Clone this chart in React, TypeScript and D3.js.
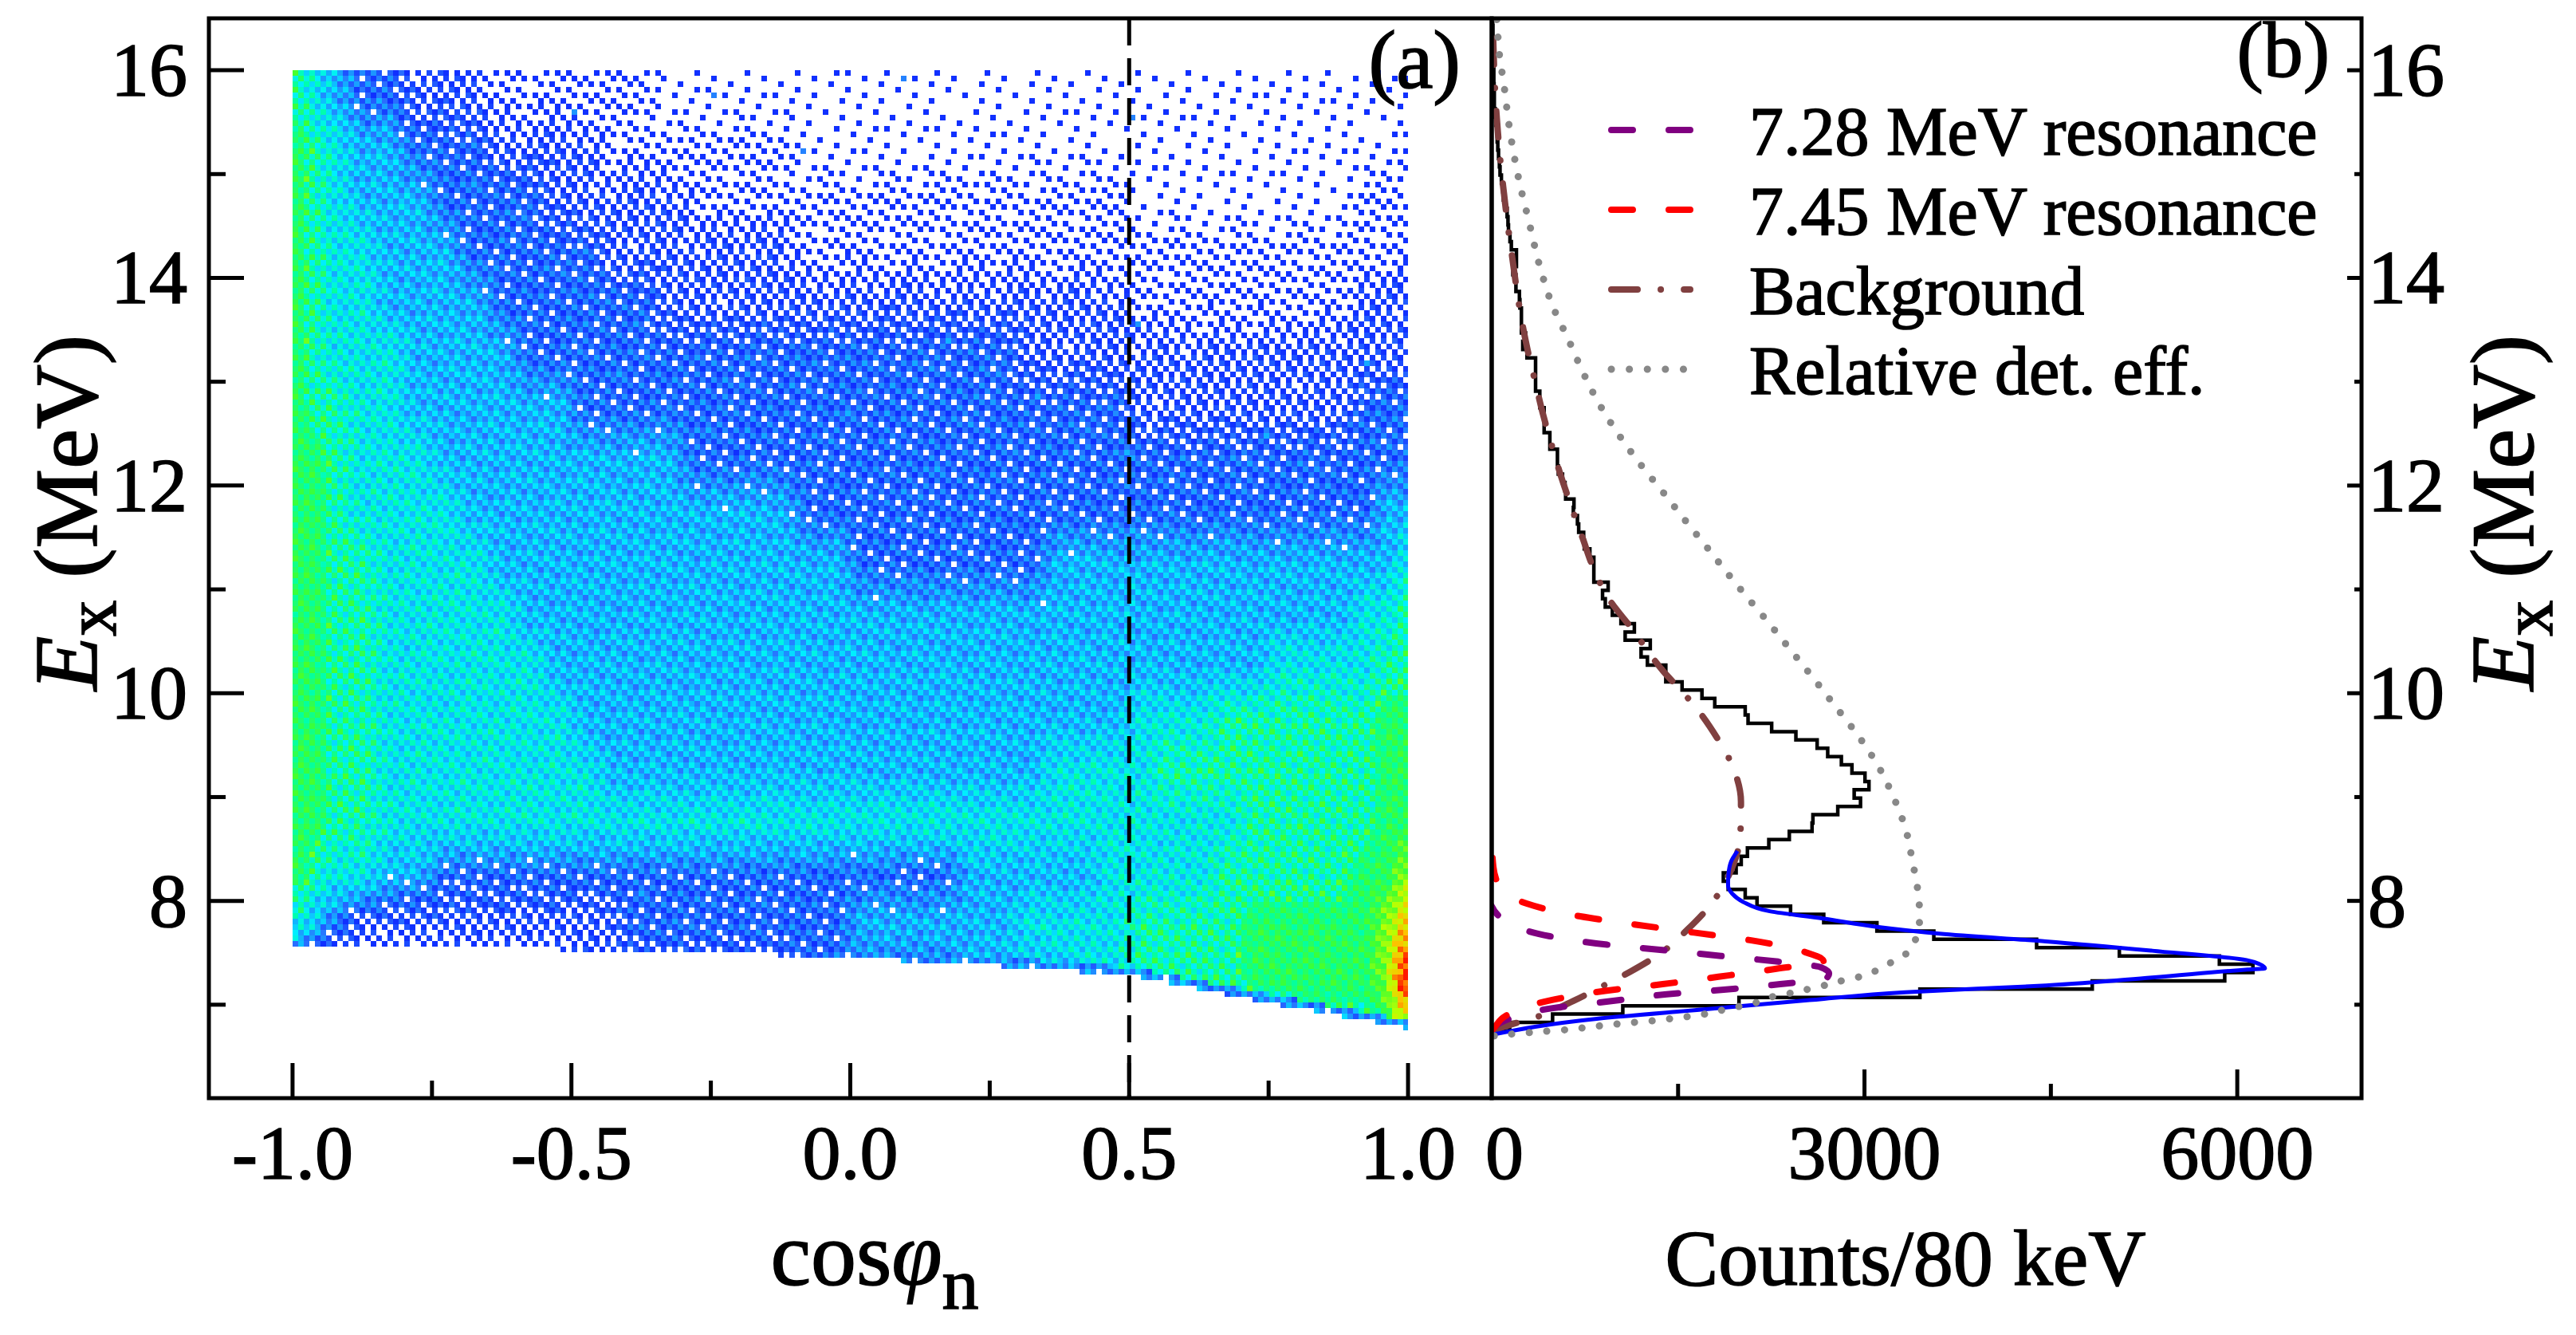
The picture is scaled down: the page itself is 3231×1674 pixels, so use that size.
import React, { useMemo } from 'react'
import * as d3 from 'd3'

const WIDTH = 3231
const HEIGHT = 1674
const SERIF = '"Liberation Serif", "Times New Roman", Times, serif'

// frame of the two panels, they share the Ex axis
const LEFT = 262
const MID = 1871
const RIGHT = 2962
const TOP = 23
const BOTTOM = 1377

const exDomain = [6.1, 16.5]
const cosDomain = [-1.15, 1.15]
const countDomain = [0, 7000]
const exMajor = [8, 10, 12, 14, 16]
const exMinor = [7, 9, 11, 13, 15]
const cosMajor = [-1, -0.5, 0, 0.5, 1]
const cosLabels = ['-1.0', '-0.5', '0.0', '0.5', '1.0']
const cosMinor = [-0.75, -0.25, 0.25, 0.75]
const countMajor = [0, 3000, 6000]
const countLabels = ['0', '3000', '6000']
const countMinor = [1500, 4500]
const cosCut = 0.5

// (a) density level, per (Ex row, cos column), run-length coded [level, n]
const mapCos = [-0.99, -0.96, -0.925, -0.875, -0.825, -0.775, -0.725, -0.675, -0.625, -0.575, -0.525,
  -0.475, -0.425, -0.375, -0.325, -0.275, -0.225, -0.175, -0.125, -0.075, -0.025, 0.025, 0.075, 0.125,
  0.175, 0.225, 0.275, 0.325, 0.375, 0.425, 0.475, 0.525, 0.575, 0.625, 0.675, 0.725, 0.775, 0.825,
  0.875, 0.925, 0.96, 0.99]
const mapEx = [15.75, 15.25, 14.75, 14.25, 13.75, 13.25, 12.75, 12.25, 11.75, 11.25, 10.75, 10.25, 9.75,
  9.25, 8.75, 8.25, 7.75, 7.25, 6.75]
const mapRows = [
  [[7, 1], [6, 1], [5, 1], [4, 2], [3, 3], [2, 6], [1, 28]],
  [[8, 1], [7, 1], [6, 1], [5, 2], [4, 3], [3, 4], [2, 7], [1, 22], [2, 1]],
  [[8, 1], [7, 1], [6, 1], [5, 3], [4, 4], [3, 5], [2, 16], [1, 8], [2, 3]],
  [[8, 1], [7, 1], [6, 2], [5, 3], [4, 5], [3, 7], [2, 23]],
  [[8, 1], [7, 1], [6, 2], [5, 4], [4, 6], [3, 17], [2, 8], [3, 3]],
  [[8, 1], [7, 1], [6, 3], [5, 4], [4, 18], [3, 15]],
  [[8, 1], [7, 2], [6, 2], [5, 6], [4, 20], [3, 8], [4, 3]],
  [[8, 2], [7, 1], [6, 3], [5, 9], [4, 27]],
  [[8, 2], [7, 1], [6, 4], [5, 12], [4, 21], [5, 2]],
  [[8, 2], [7, 2], [6, 4], [5, 13], [4, 7], [5, 13], [6, 1]],
  [[8, 2], [7, 2], [6, 5], [5, 30], [6, 2], [7, 1]],
  [[8, 2], [7, 2], [6, 6], [5, 26], [6, 4], [7, 2]],
  [[8, 2], [7, 2], [6, 7], [5, 20], [6, 3], [7, 6], [8, 2]],
  [[8, 2], [7, 2], [6, 8], [5, 16], [6, 4], [7, 8], [8, 2]],
  [[8, 2], [7, 2], [6, 31], [7, 5], [8, 2]],
  [[8, 1], [7, 1], [6, 2], [5, 2], [4, 19], [5, 5], [6, 4], [7, 5], [8, 2], [9, 1]],
  [[6, 1], [5, 1], [4, 1], [3, 10], [4, 8], [5, 6], [6, 4], [7, 4], [8, 5], [9, 1], [10, 1]],
  [[2, 11], [3, 8], [4, 6], [5, 4], [6, 2], [7, 4], [8, 5], [9, 1], [11, 1]],
  [[0, 29], [5, 4], [6, 4], [7, 3], [8, 1], [9, 1]],
]
const mapExMax = 16
// lower edge of the populated region
const edgeCos = [-1, -0.75, -0.5, -0.25, 0, 0.25, 0.5, 0.75, 0.9, 1]
const edgeEx = [7.55, 7.55, 7.53, 7.5, 7.45, 7.38, 7.28, 7.02, 6.87, 6.77]

// (b) projection, 80 keV bins starting at 6.75 MeV
const binStart = 6.75
const binWidth = 0.08
const counts = [145, 490, 1055, 1990, 3446, 4833, 5899, 6126, 5856, 5051, 4385, 3558, 3100, 2672, 2405,
  2135, 2040, 1903, 1864, 1967, 2008, 2058, 2230, 2395, 2578, 2585, 2785, 2968, 2917, 3036, 3004, 2899,
  2814, 2704, 2619, 2448, 2253, 2063, 2040, 1795, 1692, 1532, 1401, 1401, 1253, 1202, 1276, 1074, 1148,
  1040, 971, 914, 892, 937, 822, 822, 822, 790, 745, 740, 700, 690, 657, 662, 595, 590, 570, 536, 529,
  529, 468, 468, 422, 422, 422, 387, 387, 353, 353, 353, 353, 284, 250, 273, 239, 239, 239, 227, 223,
  195, 195, 170, 199, 199, 158, 147, 135, 131, 124, 108, 94, 90, 78, 67, 62, 55, 49, 44, 40, 33, 28, 21,
  21, 19, 17, 17, 14, 12, 12, 10, 10, 8]

// curves as [Ex, counts]
const fit = [[6.71, 0], [6.864, 846], [6.954, 1703], [7.044, 2558], [7.12, 3327], [7.185, 4460],
  [7.262, 5314], [7.338, 6083], [7.35, 6223], [7.39, 6180], [7.43, 6075], [7.52, 5314], [7.61, 4460],
  [7.685, 3604], [7.75, 3100], [7.83, 2665], [7.9, 2237], [7.99, 2024], [8.07, 1935], [8.15, 1902],
  [8.25, 1905], [8.38, 1927], [8.48, 1978]]
const res728 = [[6.74, 0], [6.79, 26], [6.86, 133], [6.967, 491], [7.033, 950], [7.1, 1408],
  [7.144, 1867], [7.198, 2322], [7.25, 2690], [7.3, 2715], [7.36, 2650], [7.415, 2306], [7.469, 1846],
  [7.525, 1389], [7.578, 929], [7.659, 468], [7.833, 83], [7.95, 0]]
const res745 = [[6.75, 0], [6.787, 26], [6.89, 109], [7.038, 457], [7.133, 912], [7.198, 1376],
  [7.269, 1825], [7.346, 2291], [7.42, 2670], [7.505, 2526], [7.62, 2088], [7.695, 1628], [7.769, 1173],
  [7.851, 713], [7.974, 282], [8.15, 60], [8.33, 13], [8.6, 0]]
const background = [[6.74, 0], [6.78, 80], [6.88, 359], [7.038, 660], [7.17, 878], [7.325, 1126],
  [7.49, 1353], [7.723, 1575], [7.97, 1767], [8.15, 1866], [8.4, 1960], [8.62, 2001], [8.954, 2006],
  [9.28, 1944], [9.575, 1811], [9.84, 1658], [10.01, 1537], [10.21, 1382], [10.35, 1290], [10.59, 1148],
  [10.92, 937], [11.2, 820], [11.5, 730], [11.8, 640], [12.1, 555], [12.4, 480], [12.7, 410], [13.0, 350],
  [13.3, 290], [13.6, 240], [13.9, 200], [14.2, 165], [14.5, 130], [14.8, 100], [15.1, 72], [15.4, 50],
  [15.7, 32], [16.0, 20], [16.3, 12], [16.6, 7]]
const efficiency = [[6.7, 20], [6.715, 139], [6.73, 286], [6.744, 427], [6.756, 571], [6.775, 716],
  [6.795, 859], [6.813, 1002], [6.83, 1147], [6.844, 1288], [6.864, 1429], [6.885, 1575], [6.91, 1716],
  [6.949, 1859], [6.985, 1998], [7.023, 2137], [7.082, 2276], [7.115, 2419], [7.152, 2558], [7.192, 2697],
  [7.236, 2835], [7.275, 2981], [7.333, 3103], [7.42, 3232], [7.51, 3355], [7.66, 3419], [7.84, 3444],
  [8.01, 3438], [8.18, 3419], [8.35, 3391], [8.7, 3329], [9.02, 3226], [9.32, 3100], [9.6, 2943],
  [9.87, 2768], [10.15, 2585], [10.42, 2403], [10.69, 2221], [10.97, 2024], [11.24, 1841], [11.38, 1749],
  [11.65, 1567], [11.93, 1383], [12.2, 1200], [12.48, 1028], [12.78, 868], [13.1, 731], [13.41, 616],
  [13.73, 490], [14.06, 399], [14.56, 296], [14.9, 227], [15.41, 147], [15.93, 90], [16.1, 67],
  [16.44, 44], [16.6, 35]]

const legendItems = [
  { label: '7.28 MeV resonance', color: '#800080', dash: '27 45', width: 8 },
  { label: '7.45 MeV resonance', color: '#ff0000', dash: '27 45', width: 8 },
  { label: 'Background', color: '#804040', dash: '33 29 0.1 29', width: 8 },
  { label: 'Relative det. eff.', color: '#888888', dash: '0.1 22.5', width: 9 },
]

const yScale = d3.scaleLinear().domain(exDomain).range([BOTTOM, TOP])
const xCos = d3.scaleLinear().domain(cosDomain).range([LEFT, MID])
const xCount = d3.scaleLinear().domain(countDomain).range([MID, RIGHT])

const rainbow = d3.scaleLinear<string>()
  .domain([0, 0.15, 0.3, 0.42, 0.55, 0.68, 0.8, 0.9, 1])
  .range(['#1030ff', '#2a70ff', '#10b8ff', '#00f0ff', '#00ffa8', '#40ff30', '#c0ff00', '#ffc000', '#ff1800'])

const CELL = 7

function expandRow(runs: number[][]) {
  const out: number[] = []
  runs.forEach(([v, n]) => { for (let k = 0; k < n; k++) out.push(v) })
  return out
}

function fracIndex(arr: number[], v: number) {
  const n = arr.length
  if (v <= arr[0]) return 0
  if (v >= arr[n - 1]) return n - 1
  const i = d3.bisectRight(arr, v) - 1
  return i + (v - arr[i]) / (arr[i + 1] - arr[i])
}

// interleaved gradient dither threshold, gives the grainy look of the scatter plot
function dither(i: number, j: number) {
  const f = 0.06711056 * i + 0.00583715 * j
  const g = 52.9829189 * (f - Math.floor(f))
  return g - Math.floor(g)
}

function buildHeatmap() {
  const grid = mapRows.map(expandRow).reverse()
  const exAsc = [...mapEx].reverse()
  const lowerEdge = d3.scaleLinear().domain(edgeCos).range(edgeEx)
  const coverage = d3.scaleLinear().domain([0, 1, 2, 3, 4, 4.5, 5])
    .range([0, 0.12, 0.3, 0.55, 0.9, 0.97, 1]).clamp(true)
  const shade = d3.scaleLinear().domain([1, 4, 5, 6, 7, 8, 9, 10, 11])
    .range([0.02, 0.14, 0.3, 0.42, 0.53, 0.62, 0.74, 0.88, 1]).clamp(true)
  const steps = 48
  const paths: string[][] = Array.from({ length: steps + 1 }, () => [])
  const x0 = xCos(-1), x1 = xCos(1)
  const yTop = yScale(mapExMax), yBot = yScale(6.7)
  for (let j = 0; yTop + j * CELL < yBot; j++) {
    const py = yTop + j * CELL
    const h = Math.min(CELL, yBot - py)
    const e = yScale.invert(py + h / 2)
    for (let i = 0; x0 + i * CELL < x1; i++) {
      const px = x0 + i * CELL
      const w = Math.min(CELL, x1 - px)
      const c = xCos.invert(px + w / 2)
      const emin = lowerEdge(c)
      if (e < emin) continue
      const fc = fracIndex(mapCos, c), fe = fracIndex(exAsc, e)
      const c0 = Math.floor(fc), e0 = Math.floor(fe)
      const c1 = Math.min(c0 + 1, mapCos.length - 1), e1 = Math.min(e0 + 1, exAsc.length - 1)
      const tc = fc - c0, te = fe - e0
      let level = (1 - tc) * (1 - te) * grid[e0][c0] + tc * (1 - te) * grid[e0][c1]
        + (1 - tc) * te * grid[e1][c0] + tc * te * grid[e1][c1]
      if (e - emin < 0.08) level = Math.min(level, 4.5)
      if (dither(i, j) > coverage(level)) continue
      const spread = level > 7.5 ? 0.14 : 0.32
      const t = Math.max(0, Math.min(1, shade(level) + (dither(i + 37, j + 11) - 0.5) * spread))
      const q = Math.round(t * steps)
      paths[q].push(`M${px.toFixed(1)},${py.toFixed(1)}h${w.toFixed(1)}v${h.toFixed(1)}h${(-w).toFixed(1)}z`)
    }
  }
  return paths.map((p, q) => ({ color: rainbow(q / steps), d: p.join('') })).filter(p => p.d)
}

const curveLine = d3.line<number[]>()
  .x(d => xCount(d[1]))
  .y(d => yScale(d[0]))
  .curve(d3.curveMonotoneY)

function histogramPath() {
  let d = `M${xCount(0)},${yScale(binStart)}`
  counts.forEach((c, i) => {
    d += `H${xCount(c)}V${yScale(binStart + (i + 1) * binWidth)}`
  })
  return d
}

export default function App() {
  const heat = useMemo(buildHeatmap, [])
  const hist = useMemo(histogramPath, [])

  const sorted = (arr: number[][]) => [...arr].sort((a, b) => a[0] - b[0])

  return (
    <svg width={WIDTH} height={HEIGHT} viewBox={`0 0 ${WIDTH} ${HEIGHT}`}
      style={{ position: 'absolute', left: 0, top: 0, display: 'block', background: '#fff', fontFamily: SERIF }}>
      <defs>
        <clipPath id="panelB">
          <rect x={MID} y={TOP} width={RIGHT - MID} height={BOTTOM - TOP} />
        </clipPath>
      </defs>
      <rect width={WIDTH} height={HEIGHT} fill="#fff" />

      {/* (a) */}
      <g shapeRendering="crispEdges">
        {heat.map(p => <path key={p.color} d={p.d} fill={p.color} />)}
      </g>
      <line x1={xCos(cosCut)} x2={xCos(cosCut)} y1={TOP} y2={BOTTOM}
        stroke="#000" strokeWidth={5} strokeDasharray="34 16" />

      {/* (b) */}
      <g clipPath="url(#panelB)" fill="none">
        <path d={hist} stroke="#000" strokeWidth={4.5} />
        <path d={curveLine(sorted(background)) ?? ''} stroke="#804040" strokeWidth={8}
          strokeDasharray="33 29 0.1 29" strokeLinecap="round" />
        <path d={curveLine(sorted(res728)) ?? ''} stroke="#800080" strokeWidth={8}
          strokeDasharray="27 45" strokeLinecap="round" />
        <path d={curveLine(sorted(res745)) ?? ''} stroke="#ff0000" strokeWidth={8}
          strokeDasharray="27 45" strokeLinecap="round" />
        <path d={curveLine(sorted(fit)) ?? ''} stroke="#0000ff" strokeWidth={5} />
        <path d={curveLine(sorted(efficiency)) ?? ''} stroke="#888888" strokeWidth={9}
          strokeDasharray="0.1 22" strokeLinecap="round" />
      </g>

      <g fontFamily={SERIF} fill="#000" stroke="#000" strokeWidth={1.6}>
        {/* legend */}
        {legendItems.map((item, i) => {
          const ly = 163 + i * 100
          return (
            <g key={item.label}>
              <line x1={2021} x2={2120} y1={ly} y2={ly} stroke={item.color} strokeWidth={item.width}
                strokeDasharray={item.dash} strokeLinecap="round" />
              <text x={2194} y={ly + 31} fontSize={86}>{item.label}</text>
            </g>
          )
        })}

        {/* tick labels */}
        <g fontSize={96}>
          {exMajor.map(v => (
            <text key={'ly' + v} x={235} y={yScale(v) + 32} textAnchor="end">{v}</text>
          ))}
          {exMajor.map(v => (
            <text key={'ry' + v} x={2970} y={yScale(v) + 32} textAnchor="start">{v}</text>
          ))}
          {cosMajor.map((v, i) => (
            <text key={'cx' + v} x={xCos(v)} y={1478} textAnchor="middle">{cosLabels[i]}</text>
          ))}
          {countMajor.map((v, i) => (
            <text key={'kx' + v} x={xCount(v) + (v === 0 ? 16 : 0)} y={1478} textAnchor="middle">{countLabels[i]}</text>
          ))}
        </g>

        {/* titles */}
        <text transform="translate(121,643) rotate(-90)" textAnchor="middle" fontSize={112}>
          <tspan fontStyle="italic">E</tspan>
          <tspan fontSize={90} dy={24}>x</tspan>
          <tspan dy={-24}> (MeV)</tspan>
        </text>
        <text transform="translate(3177,643) rotate(-90)" textAnchor="middle" fontSize={112}>
          <tspan fontStyle="italic">E</tspan>
          <tspan fontSize={90} dy={24}>x</tspan>
          <tspan dy={-24}> (MeV)</tspan>
        </text>
        <text x={1097} y={1611} textAnchor="middle" fontSize={114}>
          <tspan>cos</tspan>
          <tspan fontStyle="italic">φ</tspan>
          <tspan fontSize={92} dy={30}>n</tspan>
        </text>
        <text x={2390} y={1611} textAnchor="middle" fontSize={100}>Counts/80 keV</text>

        <text x={1832} y={110} textAnchor="end" fontSize={104}>(a)</text>
        <text x={2922} y={96} textAnchor="end" fontSize={100}>(b)</text>
      </g>

      {/* frames and ticks */}
      <g fill="none" stroke="#000" strokeWidth={5}>
        <rect x={LEFT} y={TOP} width={MID - LEFT} height={BOTTOM - TOP} />
        <rect x={MID} y={TOP} width={RIGHT - MID} height={BOTTOM - TOP} />
        {exMajor.map(v => <line key={'lm' + v} x1={LEFT} x2={LEFT + 44} y1={yScale(v)} y2={yScale(v)} />)}
        {exMinor.map(v => <line key={'ln' + v} x1={LEFT} x2={LEFT + 21} y1={yScale(v)} y2={yScale(v)} />)}
        {exMajor.map(v => <line key={'rm' + v} x1={RIGHT - 18} x2={RIGHT} y1={yScale(v)} y2={yScale(v)} />)}
        {exMinor.map(v => <line key={'rn' + v} x1={RIGHT - 9} x2={RIGHT} y1={yScale(v)} y2={yScale(v)} />)}
        {cosMajor.map(v => <line key={'cm' + v} x1={xCos(v)} x2={xCos(v)} y1={BOTTOM} y2={BOTTOM - 44} />)}
        {cosMinor.map(v => <line key={'cn' + v} x1={xCos(v)} x2={xCos(v)} y1={BOTTOM} y2={BOTTOM - 22} />)}
        {countMajor.slice(1).map(v => <line key={'km' + v} x1={xCount(v)} x2={xCount(v)} y1={BOTTOM} y2={BOTTOM - 36} />)}
        {countMinor.map(v => <line key={'kn' + v} x1={xCount(v)} x2={xCount(v)} y1={BOTTOM} y2={BOTTOM - 18} />)}
      </g>
    </svg>
  )
}
